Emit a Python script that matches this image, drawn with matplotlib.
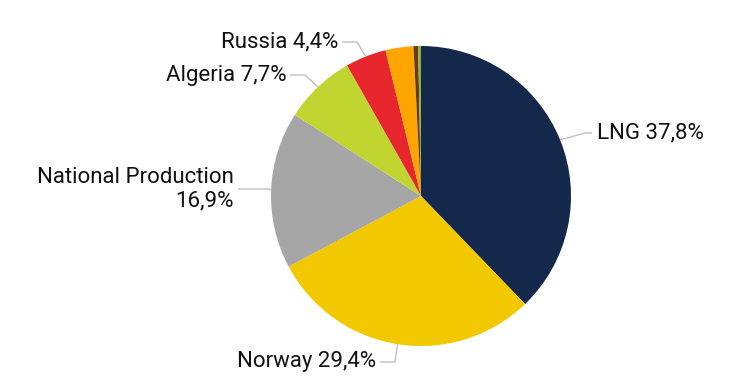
import numpy as np
import matplotlib.pyplot as plt

plt.rcParams['font.family'] = ['Roboto', 'DejaVu Sans']

labels = ['LNG', 'Norway', 'National Production', 'Algeria', 'Russia', 'Other 1', 'Other 2', 'Other 3']
shares = [37.8, 29.4, 16.9, 7.7, 4.4, 3.0, 0.5, 0.3]
colors = ['#14284B', '#F2C800', '#A6A6A6', '#C0D530', '#E8262E', '#FFA500', '#6B3A1E', '#8DB33A']
shown_labels = ['LNG 37,8%', 'Norway 29,4%', 'National Production\n16,9%', 'Algeria 7,7%', 'Russia 4,4%']

W, H = 741, 387
CX, CY, R = 421, 196, 150


def px(x, y):
    # pixel position (from top-left) -> data units of the pie (radius 1)
    return (x - CX) / R, (CY - y) / R


fig = plt.figure(figsize=(W / 100, H / 100), dpi=100)
ax = fig.add_axes([0, 0, 1, 1])

wedges, _ = ax.pie(shares, colors=colors, startangle=90, counterclock=False, radius=1,
                   wedgeprops=dict(linewidth=0))

# pie() resets the limits, so set them afterwards
ax.set_xlim(-CX / R, (W - CX) / R)
ax.set_ylim(-(H - CY) / R, CY / R)
ax.set_aspect('equal')
ax.axis('off')

# label layout: elbow point, end of line, text anchor, alignment
layout = [
    ((585, 133), (592, 133), (597, 133), 'left'),
    ((395, 362), (380, 362), (376, 362), 'right'),
    ((268, 189), (238, 189), (234, 189), 'right'),
    ((305, 75), (290, 75), (287, 75), 'right'),
    ((357, 42), (342, 42), (338, 42), 'right'),
]

for w, text, (elbow, end, anchor, ha) in zip(wedges, shown_labels, layout):
    mid = np.deg2rad((w.theta1 + w.theta2) / 2)
    x0, y0 = np.cos(mid), np.sin(mid)
    ex, ey = px(*elbow)
    lx, ly = px(*end)
    ax.plot([x0, ex, lx], [y0, ey, ly], color='#BFBFBF', lw=1, solid_capstyle='butt')
    tx, ty = px(*anchor)
    ax.text(tx, ty, text, ha=ha, va='center', fontsize=16, color='#111111',
            multialignment='right', linespacing=1.15)

fig.savefig('out.png', dpi=100)
